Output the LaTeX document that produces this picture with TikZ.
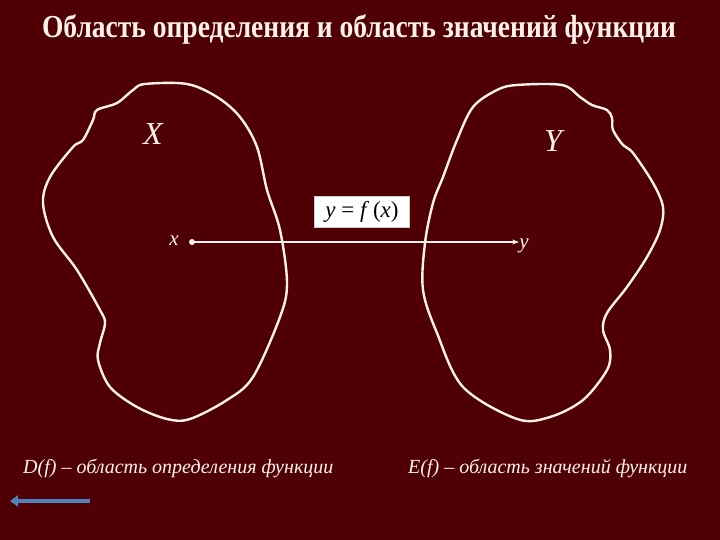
\documentclass[tikz,border=0pt]{standalone}
\usepackage{fontspec}
\setmainfont{Liberation Serif}
\definecolor{darkmaroon}{RGB}{78,0,4}
\definecolor{chalk}{RGB}{255,242,232}
\definecolor{slideblue}{RGB}{79,129,189}
\usetikzlibrary{arrows.meta, positioning}

\begin{document}
\begin{tikzpicture}[
  x=1pt, y=-1pt,
  blob/.style={draw=chalk, line width=2.4pt, line join=round},
  setlbl/.style={text=chalk, font=\fontsize{32}{34}\selectfont\itshape, inner sep=0pt},
  ptlbl/.style={text=chalk, font=\fontsize{21}{23}\selectfont\itshape, inner sep=0pt},
  caption/.style={text=chalk, font=\fontsize{20}{22}\selectfont\itshape, inner sep=0pt, anchor=west},
  arr/.style={-{Stealth[length=7pt, width=5pt]}, chalk, line width=1.3pt},
  fbox/.style={fill=white, draw=gray!40, thin, font=\fontsize{23}{25}\selectfont,
               minimum width=95pt, minimum height=31pt, inner sep=2pt}
]
\fill[darkmaroon] (0,0) rectangle (720,540);
\useasboundingbox (0,0) rectangle (720,540);

\node[text=chalk, font=\fontsize{32}{34}\selectfont\bfseries, inner sep=0pt] (title) at (359,30)
  {\scalebox{0.86}[1]{Область определения и область значений функции}};

% set X
\draw[blob] plot[smooth cycle, tension=0.55] coordinates {
  (145,84) (187,84) (217,97) (240,117) (257,147) (267,190) (280,230)
  (287,283) (280,317) (253,377) (227,400) (190,419) (167,419) (137,407)
  (110,387) (98,360) (100,343) (105,323) (100,310) (77,270) (53,237)
  (43,203) (50,177) (73,147) (83,140) (93,120) (97,110) (117,103) (133,90)};

% set Y
\draw[blob] plot[smooth cycle, tension=0.55] coordinates {
  (517,85) (562,85) (580,97) (592,105) (607,110) (612,118) (613,130)
  (623,145) (633,153) (653,183) (663,207) (660,230) (647,257) (627,287)
  (607,313) (603,330) (610,350) (607,370) (583,400) (550,417) (517,419)
  (463,387) (437,333) (423,290) (425,243) (433,203) (443,177) (457,140)
  (473,107) (497,90)};

\node[setlbl] (X) at (153,134) {X};
\node[setlbl] (Y) at (553,141) {Y};

\node[circle, fill=chalk, inner sep=0pt, minimum size=6pt] (xdot) at (192,242) {};
\node[ptlbl] (xlbl) at (174,241) {x};
\node[ptlbl] (ylbl) at (524,246) {y};

\node[fbox] (fx) at (362,212) {\textit{y} = \textit{f}\,(\textit{x})};

\draw[arr] (xdot) -- (ylbl.west |- xdot);

\node[caption] (Df) at (23,468) {D(f) – область определения функции};
\node[caption] (Ef) at (408,468) {E(f) – область значений функции};

% back button
\draw[-{Triangle[length=8pt, width=11pt]}, slideblue, line width=4.5pt] (90,501) -- (10,501);
\end{tikzpicture}
\end{document}
